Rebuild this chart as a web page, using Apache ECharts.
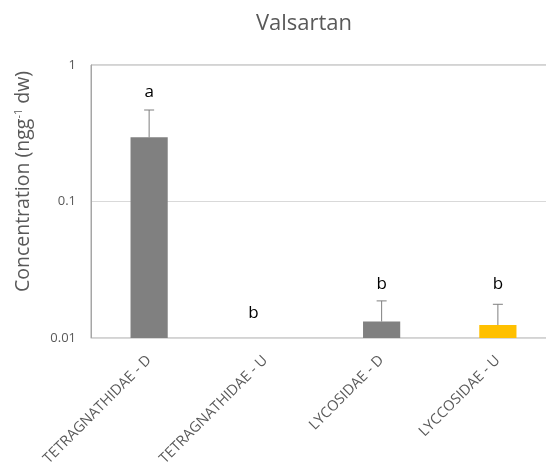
<!DOCTYPE html>
<html><head><meta charset="utf-8">
<script src="https://cdn.jsdelivr.net/npm/echarts@6/dist/echarts.min.js"></script>
<style>html,body{margin:0;padding:0;background:#fff}#c{width:546px;height:468px}</style>
</head><body><div id="c"></div>
<script>
const categories = ['TETRAGNATHIDAE - D','TETRAGNATHIDAE - U','LYCOSIDAE - D','LYCCOSIDAE - U'];
const values = [0.295, null, 0.0132, 0.01245];
const errTop = [0.468, null, 0.0187, 0.01766];
const letters = ['a','b','b','b'];
const letterAt = [0.634, 0.01525, 0.0249, 0.0249];
const barColors = ['#808080','#808080','#808080','#FFC000'];
const yTicks = [0.01, 0.1, 1];

const FONT = "'Open Sans', 'Noto Sans', sans-serif";
const chart = echarts.init(document.getElementById('c'));
const idx = categories.map((c,i)=>i);

chart.setOption({
  animation:false,
  title:{text:'Valsartan', left:299, top:8, textAlign:'center',
    textStyle:{fontFamily:FONT, fontSize:22, fontWeight:'normal', color:'#595959'}},
  grid:{left:91, top:65, right:-10, bottom:130, outerBoundsMode:'none', containLabel:false,
    show:true, borderColor:'#a6a6a6', borderWidth:1},
  xAxis:{type:'category', data:categories, boundaryGap:true,
    axisTick:{show:false}, axisLine:{lineStyle:{color:'#d9d9d9'}},
    axisLabel:{rotate:45, fontFamily:FONT, fontSize:14.5, color:'#595959', margin:20, interval:0}},
  yAxis:{type:'log', logBase:10, min:yTicks[0], max:yTicks[2],
    axisLine:{show:true, lineStyle:{color:'#a6a6a6'}}, axisTick:{show:false},
    splitLine:{lineStyle:{color:'#d9d9d9'}},
    axisLabel:{fontFamily:FONT, fontSize:13, color:'#595959', margin:15},
    name:'{a|Concentration (ngg}{s|-1}{a| dw)}', nameLocation:'middle', nameGap:58,
    nameTextStyle:{padding:[0,0,0,40], rich:{a:{fontFamily:FONT, fontSize:19.5, color:'#595959'},
      s:{fontFamily:FONT, fontSize:11, color:'#595959', verticalAlign:'top', padding:[0,0,9,0]}}}},
  series:[
    {type:'custom', data:idx.map(i=>[i, values[i]]), z:2,
      renderItem:(params, api)=>{
        const v = api.value(1);
        if (v == null || isNaN(v)) return;
        const i = api.value(0);
        const top = api.coord([i, v]);
        const base = api.coord([i, yTicks[0]]);
        const bw = api.size([1,0])[0]*0.32;
        return {type:'rect', shape:{x:top[0]-bw/2, y:top[1], width:bw, height:base[1]-top[1]},
          style:{fill:barColors[i]}};
      }},
    {type:'custom', data:idx.map(i=>[i, values[i], errTop[i]]), z:3,
      renderItem:(params, api)=>{
        const v = api.value(1), e = api.value(2);
        if (v == null || isNaN(v) || isNaN(e)) return;
        const i = api.value(0);
        const p0 = api.coord([i, v]);
        const p1 = api.coord([i, e]);
        const st = {stroke:'#7f7f7f', lineWidth:1};
        return {type:'group', children:[
          {type:'line', shape:{x1:p0[0], y1:p0[1], x2:p1[0], y2:p1[1]}, style:st},
          {type:'line', shape:{x1:p1[0]-5, y1:p1[1], x2:p1[0]+5, y2:p1[1]}, style:st}
        ]};
      }},
    {type:'custom', data:idx.map(i=>[i, letterAt[i]]), z:4,
      renderItem:(params, api)=>{
        const i = api.value(0);
        const p = api.coord([i, api.value(1)]);
        const dx = i===1 ? -12 : 0;
        return {type:'text', style:{text:letters[i], x:p[0]+dx, y:p[1], align:'center', verticalAlign:'middle',
          font:'17px '+FONT, fill:'#000'}};
      }}
  ]
});
</script></body></html>
